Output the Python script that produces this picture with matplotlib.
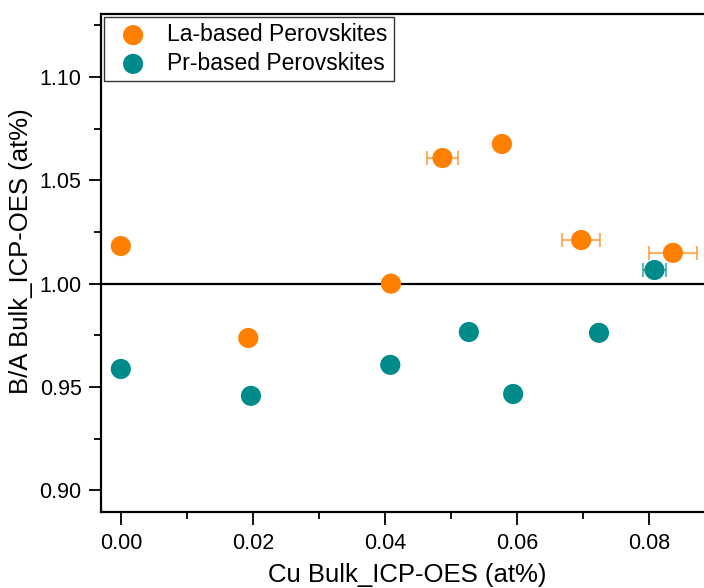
import numpy as np
import matplotlib
matplotlib.use("Agg")
import matplotlib.pyplot as plt
from matplotlib.ticker import MultipleLocator, FormatStrFormatter

plt.rcParams['font.family'] = ['Liberation Sans', 'DejaVu Sans']

# La-based perovskites
la_cu = [0.0, 0.0193, 0.0409, 0.0487, 0.0577, 0.0697, 0.0836]
la_ba = [1.0182, 0.9737, 1.0000, 1.0608, 1.0676, 1.0211, 1.0149]
la_err = [0.0, 0.0, 0.0, 0.0023, 0.0, 0.0029, 0.0036]

# Pr-based perovskites
pr_cu = [0.0, 0.0197, 0.0408, 0.0527, 0.0594, 0.0724, 0.0808]
pr_ba = [0.9587, 0.9457, 0.9607, 0.9766, 0.9466, 0.9762, 1.0066]
pr_err = [0.0, 0.0, 0.0, 0.0, 0.0, 0.0, 0.0018]

orange = '#FF8000'
teal = '#008B8B'

fig = plt.figure(figsize=(7.04, 5.88), dpi=100)
ax = fig.add_axes([0.1435, 0.1293, 0.8565, 0.8469])

ax.axhline(1.0, color='black', lw=1.6, zorder=1)

for x, y, e, c in [(la_cu, la_ba, la_err, orange), (pr_cu, pr_ba, pr_err, teal)]:
    x, y, e = np.array(x), np.array(y), np.array(e)
    m = e > 0
    ax.errorbar(x[m], y[m], xerr=e[m], fmt='none', ecolor=c, alpha=0.6,
                elinewidth=1.5, capsize=5, capthick=1.5, zorder=2)

ax.scatter(la_cu, la_ba, s=210, color=orange, edgecolors='none', zorder=3,
           label='La-based Perovskites')
ax.scatter(pr_cu, pr_ba, s=210, color=teal, edgecolors='none', zorder=3,
           label='Pr-based Perovskites')

ax.set_xlim(-0.003, 0.0883)
ax.set_ylim(0.8895, 1.1305)
ax.xaxis.set_major_locator(MultipleLocator(0.02))
ax.xaxis.set_minor_locator(MultipleLocator(0.01))
ax.yaxis.set_major_locator(MultipleLocator(0.05))
ax.yaxis.set_minor_locator(MultipleLocator(0.025))
ax.xaxis.set_major_formatter(FormatStrFormatter('%.2f'))
ax.yaxis.set_major_formatter(FormatStrFormatter('%.2f'))
ax.tick_params(which='major', direction='out', length=9, width=1.3, labelsize=15.5)
ax.tick_params(axis='x', which='major', pad=6)
ax.tick_params(axis='y', which='major', pad=5)
ax.tick_params(which='minor', direction='out', length=5, width=1.3)
ax.spines['right'].set_visible(False)
for s in ['left', 'bottom', 'top']:
    ax.spines[s].set_linewidth(1.6)

ax.set_xlabel('Cu Bulk_ICP-OES (at%)', fontsize=18.5)
ax.set_ylabel('B/A Bulk_ICP-OES (at%)', fontsize=18.5)
ax.xaxis.set_label_coords(0.508, -0.102)
ax.yaxis.set_label_coords(-0.113, 0.524)

leg = ax.legend(loc='upper left', fontsize=16.5, frameon=True, fancybox=False,
                edgecolor='#333333', framealpha=1, borderaxespad=0.15,
                handletextpad=0.5, labelspacing=0.25, borderpad=0.25)
leg.get_frame().set_linewidth(1.0)

fig.savefig('out.png', dpi=100)
